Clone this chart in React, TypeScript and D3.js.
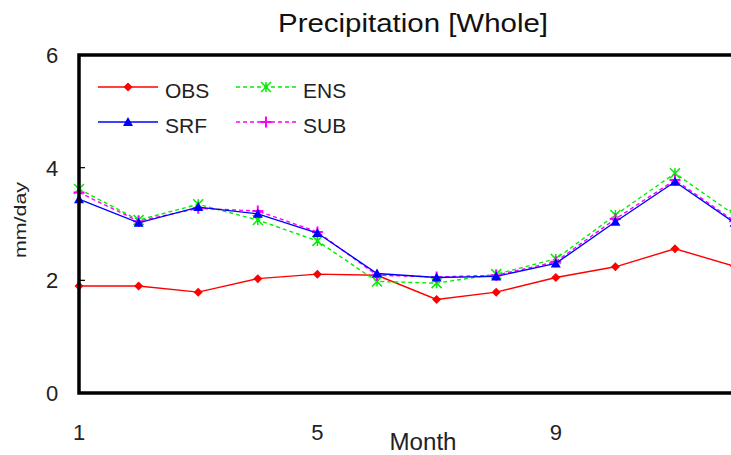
import React from "react";
import * as d3 from "d3";

const months = [1, 2, 3, 4, 5, 6, 7, 8, 9, 10, 11, 12];
const obs = [1.9, 1.9, 1.79, 2.03, 2.11, 2.09, 1.66, 1.79, 2.05, 2.24, 2.56, 2.25];
const srf = [3.44, 3.02, 3.3, 3.18, 2.84, 2.12, 2.05, 2.07, 2.3, 3.04, 3.75, 3.02];
const ens = [3.62, 3.07, 3.35, 3.07, 2.7, 1.98, 1.95, 2.11, 2.38, 3.16, 3.9, 3.16];
const sub = [3.56, 3.05, 3.28, 3.23, 2.86, 2.09, 2.06, 2.09, 2.33, 3.09, 3.78, 3.05];
const yTicks = [0, 2, 4, 6];
const xTicks = [1, 5, 9];

type Series = { name: string; values: number[]; color: string; dash?: string; marker: string };
const series: Series[] = [
  { name: "OBS", values: obs, color: "#ff0000", marker: "diamond" },
  { name: "ENS", values: ens, color: "#00ee00", dash: "4,3", marker: "asterisk" },
  { name: "SUB", values: sub, color: "#ff00ff", dash: "4,3", marker: "plus" },
  { name: "SRF", values: srf, color: "#0000ff", marker: "triangle" },
];

const FONT = "'Liberation Sans', Arial, sans-serif";

function Marker({ kind, x, y, color }: { kind: string; x: number; y: number; color: string }) {
  if (kind === "diamond") {
    const r = 4.5;
    return <path d={`M${x},${y - r}L${x + r},${y}L${x},${y + r}L${x - r},${y}Z`} fill={color} />;
  }
  if (kind === "triangle") {
    const r = 5;
    return <path d={`M${x},${y - r}L${x + r},${y + r * 0.8}L${x - r},${y + r * 0.8}Z`} fill={color} />;
  }
  if (kind === "asterisk") {
    const r = 5;
    return (
      <path
        d={`M${x - r},${y - r}L${x + r},${y + r}M${x - r},${y + r}L${x + r},${y - r}M${x},${y - r}L${x},${y + r}`}
        stroke={color}
        strokeWidth={1.5}
      />
    );
  }
  const r = 5.5;
  return <path d={`M${x - r},${y}L${x + r},${y}M${x},${y - r}L${x},${y + r}`} stroke={color} strokeWidth={2} />;
}

export default function App() {
  const W = 731;
  const H = 455;
  const x = d3.scaleLinear().domain([1, 12]).range([79, 79 + 11 * 59.6]);
  const y = d3.scaleLinear().domain([0, 6]).range([393, 55]);
  const line = d3
    .line<number>()
    .x((_, i) => x(months[i]))
    .y((d) => y(d));

  const legend = [
    { s: series[0], lx: 98, ly: 87 },
    { s: series[3], lx: 98, ly: 122 },
    { s: series[1], lx: 236, ly: 87 },
    { s: series[2], lx: 236, ly: 122 },
  ];

  return (
    <svg width={W} height={H} style={{ position: "absolute", left: 0, top: 0, background: "#fff" }} fontFamily={FONT}>
      <rect x={0} y={0} width={W} height={H} fill="#fff" />
      <text x={413} y={32} textAnchor="middle" fontSize={26} fill="#111" textLength={270} lengthAdjust="spacingAndGlyphs">
        Precipitation [Whole]
      </text>

      {series.map((s) => (
        <g key={s.name}>
          <path d={line(s.values) || ""} fill="none" stroke={s.color} strokeWidth={1.4} strokeDasharray={s.dash} />
          {s.values.map((v, i) => (
            <Marker key={i} kind={s.marker} x={x(months[i])} y={y(v)} color={s.color} />
          ))}
        </g>
      ))}

      {/* frame */}
      <path d={`M${W + 5},${y(6)}H${x(1)}V${y(0)}H${W + 5}`} fill="none" stroke="#000" strokeWidth={3.5} />
      {yTicks
        .filter((t) => t > 0 && t < 6)
        .map((t) => (
          <line key={t} x1={x(1)} x2={x(1) + 6} y1={y(t)} y2={y(t)} stroke="#000" strokeWidth={1.2} />
        ))}

      {yTicks.map((t) => (
        <text key={t} x={52} y={y(t) + 8} textAnchor="middle" fontSize={22} fill="#222">
          {t}
        </text>
      ))}
      {xTicks.map((t) => (
        <text key={t} x={x(t)} y={440} textAnchor="middle" fontSize={22} fill="#222">
          {t}
        </text>
      ))}
      <text x={423} y={450} textAnchor="middle" fontSize={23} fill="#222" textLength={67} lengthAdjust="spacingAndGlyphs">
        Month
      </text>
      <text
        transform="translate(26,220) rotate(-90)"
        textAnchor="middle"
        fontSize={16}
        fill="#222"
        textLength={76}
        lengthAdjust="spacingAndGlyphs"
      >
        mm/day
      </text>

      {legend.map(({ s, lx, ly }) => (
        <g key={s.name}>
          <line x1={lx} x2={lx + 60} y1={ly} y2={ly} stroke={s.color} strokeWidth={1.4} strokeDasharray={s.dash} />
          <Marker kind={s.marker} x={lx + 30} y={ly} color={s.color} />
          <text x={lx + 67} y={ly + 11} fontSize={21} fill="#222">
            {s.name}
          </text>
        </g>
      ))}
    </svg>
  );
}
